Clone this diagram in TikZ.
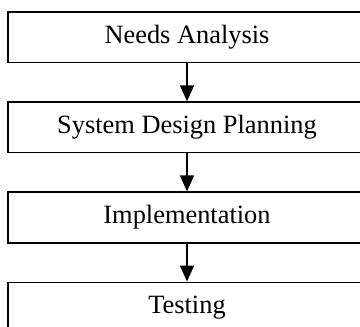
\documentclass[tikz,border=0pt]{standalone}
\usepackage{fontspec}
\setmainfont{Liberation Serif}
\usepackage{tikz}
\usetikzlibrary{arrows.meta, positioning}

\tikzset{
    stage/.style={draw, line width=1.6pt, minimum width=358pt, minimum height=50.5pt,
        inner sep=0pt, font=\fontsize{26.4}{30}\selectfont},
    flow/.style={line width=1.6pt, -{Triangle[length=16pt, width=14pt]}}
}

\begin{document}
\begin{tikzpicture}[x=1pt, y=1pt, node distance=38pt]
    \useasboundingbox (0,0) rectangle (360,-327);
    \clip (0,0) rectangle (360,-327);
    % 流程各阶段
    \node[stage] (needs) at (187,-37.25) {Needs Analysis};
    \node[stage, below=of needs] (design) {System Design Planning};
    \node[stage, below=of design] (impl) {Implementation};
    \node[stage, below=of impl] (test) {Testing};
    % 箭头
    \draw[flow] (needs) -- (design);
    \draw[flow] (design) -- (impl);
    \draw[flow] (impl) -- (test);
\end{tikzpicture}
\end{document}
